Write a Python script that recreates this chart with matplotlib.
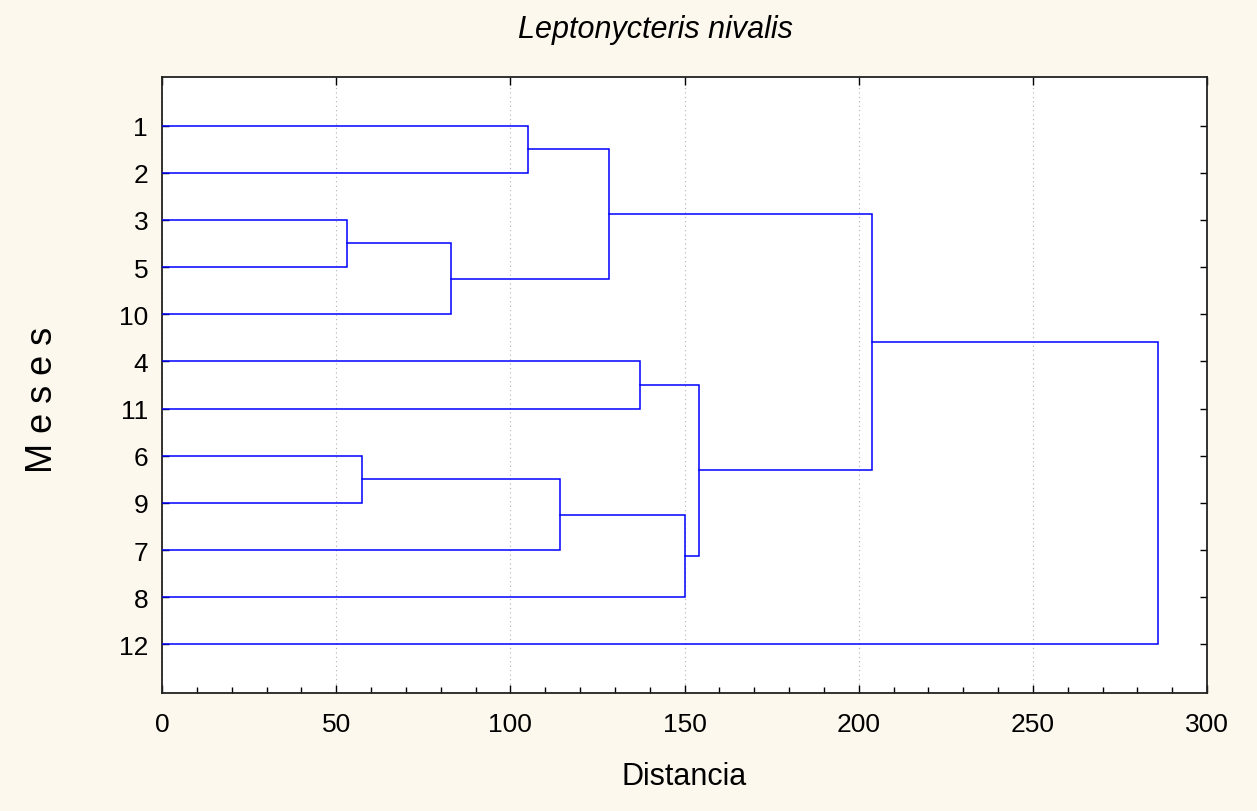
import matplotlib
matplotlib.use("Agg")
import matplotlib.pyplot as plt
from matplotlib.ticker import MultipleLocator

# Leaf order (top to bottom) and labels
leaves = ["1", "2", "3", "5", "10", "4", "11", "6", "9", "7", "8", "12"]
# Merges: (left node, right node, linkage distance); nodes are leaf labels or merge names
merge_names = ["A", "B", "C", "D", "E", "F", "G", "H", "I", "J", "K"]
merge_left = ["1", "3", "B", "A", "4", "6", "F", "G", "E", "D", "J"]
merge_right = ["2", "5", "10", "C", "11", "9", "7", "8", "H", "I", "12"]
merge_height = [105.0, 53.0, 83.0, 128.3, 137.3, 57.5, 114.3, 150.0, 154.3, 203.7, 286.0]

BG = "#FDF8EE"
BLUE = "#0000FF"
plt.rcParams["font.family"] = ["Liberation Sans", "DejaVu Sans"]

fig = plt.figure(figsize=(12.57, 8.12), dpi=100, facecolor=BG)
ax = fig.add_axes([162/1257, 1 - 694/812, (1207-162)/1257, (694-78)/812])
ax.set_facecolor("white")

pos = {lab: i + 1 for i, lab in enumerate(leaves)}
hgt = {lab: 0.0 for lab in leaves}
for name, l, r, h in zip(merge_names, merge_left, merge_right, merge_height):
    yl, yr = pos[l], pos[r]
    ax.plot([hgt[l], h, h, hgt[r]], [yl, yl, yr, yr], color=BLUE, lw=1.1,
            solid_joinstyle="miter", zorder=3)
    pos[name] = (yl + yr) / 2
    hgt[name] = h

ax.set_xlim(0, 300)
ax.set_ylim(13.03, -0.03)
ax.set_yticks(range(1, 13))
ax.set_yticklabels(leaves)
ax.xaxis.set_major_locator(MultipleLocator(50))
ax.xaxis.set_minor_locator(MultipleLocator(10))
ax.tick_params(axis="both", which="both", direction="in", labelsize=19, colors="black")
ax.tick_params(axis="x", which="major", length=6, width=1, top=True, pad=14)
ax.tick_params(axis="x", which="minor", length=4, width=1, top=False)
ax.tick_params(axis="y", which="major", length=5, width=1, right=True, pad=10)
ax.grid(axis="x", which="major", color="#b0b0b0", linestyle=(0, (1, 3)), lw=0.8, zorder=1)
for s in ax.spines.values():
    s.set_linewidth(1.3)
    s.set_color("#222222")

fig.text(655/1257, 1 - 30/812, "Leptonycteris nivalis", fontsize=22, style="italic",
         ha="center", va="center")
ax.set_xlabel("Distancia", fontsize=22, labelpad=18)
ax.set_ylabel("M e s e s", fontsize=26, labelpad=42)
ax.yaxis.label.set_y(0.477)

fig.savefig("out.png", dpi=100, facecolor=BG)
